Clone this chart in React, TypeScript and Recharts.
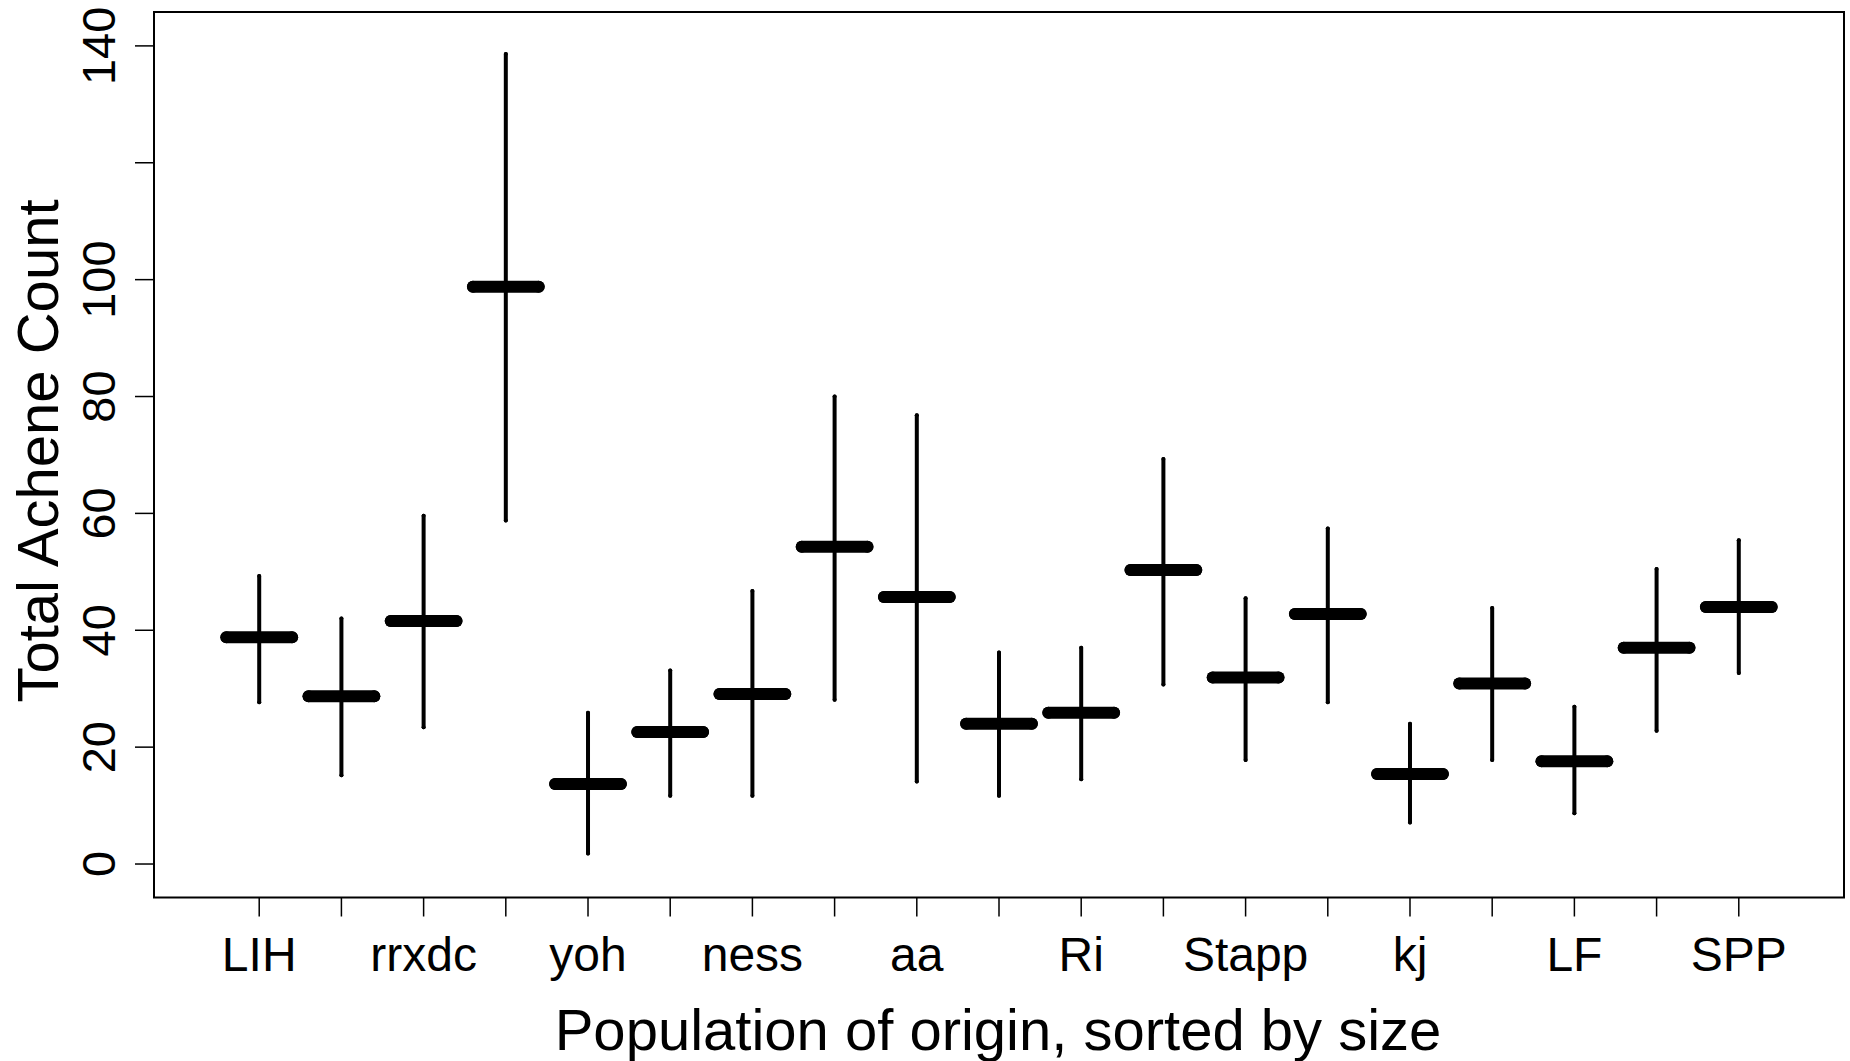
import { ScatterChart, Scatter, XAxis, YAxis, ErrorBar, ReferenceArea } from "recharts";

const categories = ["LIH", "", "rrxdc", "", "yoh", "", "ness", "", "aa", "", "Ri", "", "Stapp", "", "kj", "", "LF", "", "SPP"];
const means = [38.8, 28.7, 41.6, 98.8, 13.7, 22.6, 29.1, 54.3, 45.7, 24.0, 25.9, 50.3, 31.9, 42.8, 15.4, 30.9, 17.6, 37.0, 44.0];
const lows = [27.7, 15.2, 23.4, 58.8, 1.8, 11.7, 11.7, 28.1, 14.1, 11.7, 14.5, 30.7, 17.8, 27.7, 7.1, 17.8, 8.7, 22.8, 32.7];
const highs = [49.3, 42.0, 59.6, 138.6, 25.9, 33.1, 46.7, 80.0, 76.8, 36.2, 37.0, 69.3, 45.5, 57.4, 24.0, 43.8, 26.9, 50.5, 55.4];
const yTicks = [0, 20, 40, 60, 80, 100, 120, 140];
const yTickLabels = ["0", "20", "40", "60", "80", "100", "", "140"];

const FONT = "'Liberation Sans', Arial, Helvetica, sans-serif";
const X_DOMAIN: [number, number] = [-0.28, 20.28];
const Y_DOMAIN: [number, number] = [-5.73, 145.8];
const HALF_BAR = 0.4;

const rows = means.map((m, i) => ({
  pos: i + 1,
  mean: m,
  range: [m - lows[i], highs[i] - m],
  half: HALF_BAR,
}));

function XTick(props: any) {
  const { x, y, payload } = props;
  const label = categories[payload.value - 1];
  if (!label) return <g />;
  return (
    <text x={x} y={y + 52} textAnchor="middle" fontSize={48} fontFamily={FONT} fill="#000">
      {label}
    </text>
  );
}

function YTick(props: any) {
  const { x, y, payload } = props;
  const label = yTickLabels[yTicks.indexOf(payload.value)];
  if (!label) return <g />;
  const bx = x - 18;
  return (
    <text x={bx} y={y} transform={`rotate(-90, ${bx}, ${y})`} textAnchor="middle" fontSize={47} fontFamily={FONT} fill="#000">
      {label}
    </text>
  );
}

function XTitle() {
  return (
    <text x={998} y={1050} textAnchor="middle" fontSize={58} fontFamily={FONT} fill="#000">
      Population of origin, sorted by size
    </text>
  );
}

function YTitle() {
  return (
    <text x={58} y={451} transform="rotate(-90, 58, 451)" textAnchor="middle" fontSize={58} fontFamily={FONT} fill="#000">
      Total Achene Count
    </text>
  );
}

export default function App() {
  return (
    <div style={{ position: "absolute", left: 0, top: 0, width: 1850, height: 1061, background: "#fff" }}>
      <ScatterChart width={1850} height={1061} margin={{ top: 12, right: 6, bottom: 0, left: 0 }}>
        <XAxis
          type="number"
          dataKey="pos"
          domain={X_DOMAIN}
          allowDataOverflow
          ticks={categories.map((_, i) => i + 1)}
          interval={0}
          axisLine={false}
          tickLine={{ stroke: "#000", strokeWidth: 1.5 }}
          tickSize={19}
          tick={<XTick />}
          height={163.5}
          label={<XTitle />}
        />
        <YAxis
          type="number"
          dataKey="mean"
          domain={Y_DOMAIN}
          allowDataOverflow
          ticks={yTicks}
          interval={0}
          axisLine={false}
          tickLine={{ stroke: "#000", strokeWidth: 1.5 }}
          tickSize={19}
          tick={<YTick />}
          width={154}
          label={<YTitle />}
        />
        <ReferenceArea
          x1={X_DOMAIN[0]}
          x2={X_DOMAIN[1]}
          y1={Y_DOMAIN[0]}
          y2={Y_DOMAIN[1]}
          fill="none"
          fillOpacity={0}
          stroke="#000"
          strokeWidth={2}
          ifOverflow="visible"
        />
        <Scatter data={rows} isAnimationActive={false} shape={() => <g />}>
          <ErrorBar dataKey="range" direction="y" width={0} stroke="#000" strokeWidth={4} strokeLinecap="round" isAnimationActive={false} />
          <ErrorBar dataKey="half" direction="x" width={0} stroke="#000" strokeWidth={12} strokeLinecap="round" isAnimationActive={false} />
        </Scatter>
      </ScatterChart>
    </div>
  );
}
